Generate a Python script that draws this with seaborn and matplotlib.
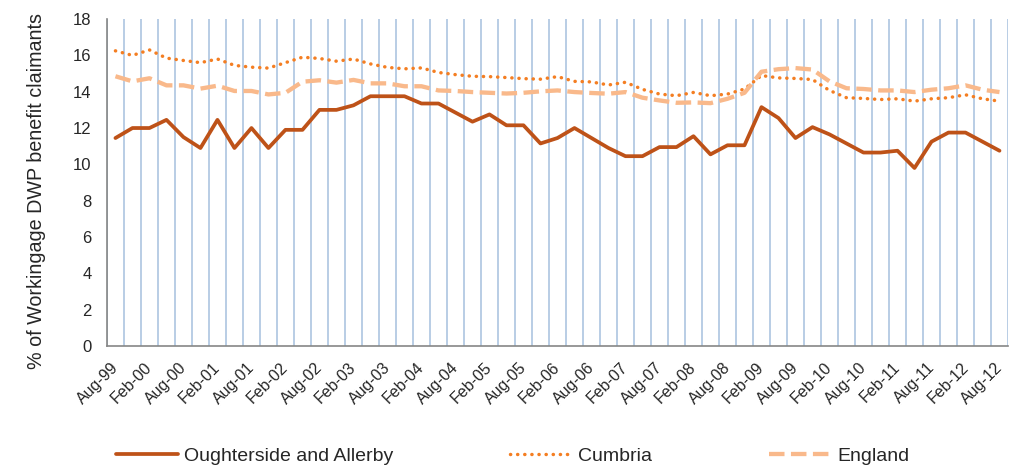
import numpy as np
import pandas as pd
import matplotlib
matplotlib.use("Agg")
import matplotlib.pyplot as plt
from matplotlib.transforms import ScaledTranslation
import seaborn as sns

# quarterly periods, Aug-99 .. Aug-12
periods = pd.date_range("1999-08-01", periods=53, freq="3MS").strftime("%b-%y").tolist()

# % of working age population claiming DWP benefits
oughterside = [11.45, 12.0, 12.0, 12.45, 11.5, 10.9, 12.45, 10.9, 12.0, 10.9,
               11.9, 11.9, 13.0, 13.0, 13.25, 13.75, 13.75, 13.75, 13.35, 13.35,
               12.85, 12.35, 12.75, 12.15, 12.15, 11.15, 11.45, 12.0, 11.45, 10.9,
               10.45, 10.45, 10.95, 10.95, 11.55, 10.55, 11.05, 11.05, 13.15, 12.55,
               11.45, 12.05, 11.65, 11.15, 10.65, 10.65, 10.75, 9.8, 11.25, 11.75,
               11.75, 11.25, 10.75]
cumbria = [16.25, 16.0, 16.3, 15.85, 15.72, 15.6, 15.8, 15.45, 15.35, 15.3,
           15.6, 15.9, 15.83, 15.68, 15.8, 15.53, 15.34, 15.26, 15.31, 15.06,
           14.94, 14.85, 14.83, 14.78, 14.72, 14.69, 14.83, 14.57, 14.54, 14.37,
           14.52, 14.13, 13.87, 13.78, 13.96, 13.78, 13.87, 14.15, 14.89, 14.76,
           14.73, 14.67, 14.07, 13.67, 13.63, 13.57, 13.61, 13.48, 13.61, 13.67,
           13.83, 13.61, 13.48]
england = [14.85, 14.57, 14.74, 14.35, 14.35, 14.17, 14.33, 14.04, 14.04, 13.85,
           13.94, 14.55, 14.63, 14.5, 14.65, 14.46, 14.46, 14.3, 14.3, 14.07,
           14.04, 13.98, 13.94, 13.9, 13.94, 14.02, 14.07, 13.98, 13.93, 13.89,
           13.98, 13.67, 13.52, 13.39, 13.41, 13.37, 13.61, 13.94, 15.1, 15.24,
           15.3, 15.22, 14.57, 14.19, 14.15, 14.07, 14.07, 13.98, 14.11, 14.19,
           14.35, 14.11, 13.98]

# only every second quarter is labelled
tick_labels = periods[::2]

sns.set_style("white")
plt.rcParams['font.family'] = ['Liberation Sans', 'DejaVu Sans']

idx = np.arange(len(periods))
df = pd.DataFrame({"idx": idx, "Oughterside and Allerby": oughterside,
                   "Cumbria": cumbria, "England": england})

fig = plt.figure(figsize=(10.09, 4.65), dpi=100)
ax = fig.add_axes([0.106, 0.256, 0.893, 0.703])

sns.lineplot(data=df, x="idx", y="Oughterside and Allerby", ax=ax, color="#BE5218",
             lw=2.7, label="Oughterside and Allerby")
sns.lineplot(data=df, x="idx", y="Cumbria", ax=ax, color="#F47E22", lw=2.5,
             linestyle=(0, (0.05, 2.0)), dash_capstyle="round", label="Cumbria")
sns.lineplot(data=df, x="idx", y="England", ax=ax, color="#F9B98B", lw=3.1,
             linestyle=(0, (3.6, 1.5)), dash_capstyle="butt", label="England")

ax.set_xlim(-0.5, len(periods) - 0.5)
ax.set_ylim(0, 18)
ax.set_yticks(np.arange(0, 19, 2))

# boundary ticks + vertical gridlines, labels at category centres
ax.set_xticks(np.arange(-0.5, len(periods)), labels=[])
ax.set_xticks(idx[::2], minor=True)
ax.set_xticklabels(tick_labels, minor=True, rotation=45, ha="right",
                   rotation_mode="anchor", fontsize=11.5)
ax.tick_params(axis="x", which="minor", length=0, pad=10)
ax.tick_params(axis="x", which="major", length=5, width=1.2, color="#868686", direction="out")
ax.tick_params(axis="y", length=5, width=1.2, color="#868686", direction="out",
               labelsize=12, pad=6)
ax.xaxis.grid(True, which="major", color="#B9CDE5", lw=1.4)
ax.yaxis.grid(False)

shift = ScaledTranslation(-0.05, 0, fig.dpi_scale_trans)
for lbl in ax.get_xticklabels(minor=True):
    lbl.set_transform(lbl.get_transform() + shift)

for s in ["top", "right"]:
    ax.spines[s].set_visible(False)
for s in ["left", "bottom"]:
    ax.spines[s].set_color("#868686")
    ax.spines[s].set_linewidth(1.2)

ax.set_xlabel("")
ax.set_ylabel("% of Workingage DWP benefit claimants", fontsize=14.2)
ax.yaxis.set_label_coords(-0.068, 0.475)

handles, labels = ax.get_legend_handles_labels()
ax.get_legend().remove()
fig.legend(handles, labels, loc="center", bbox_to_anchor=(0.508, 0.02), ncol=3,
           frameon=False, fontsize=14, handlelength=3.2, handletextpad=0.3,
           columnspacing=6.0)

fig.savefig("out.png", dpi=100)
